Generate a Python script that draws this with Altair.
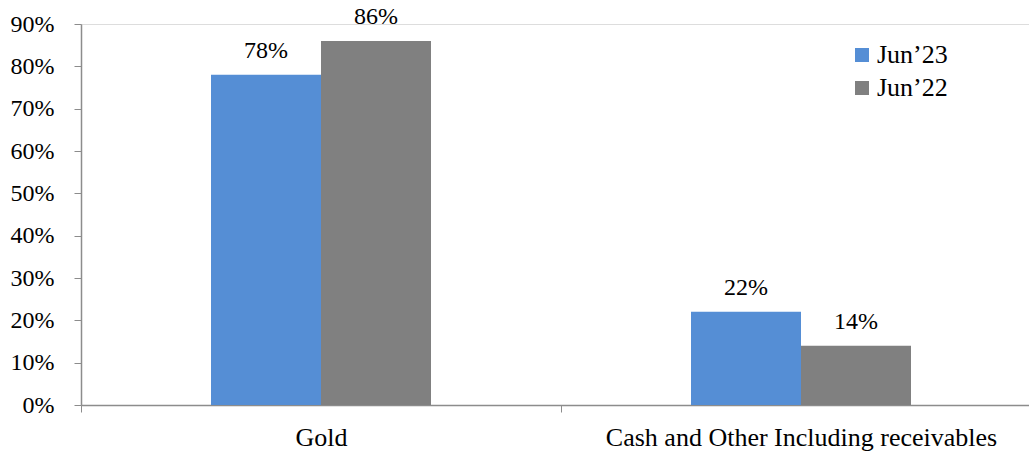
import altair as alt
import pandas as pd

# Portfolio composition by asset class, two reporting dates
categories = ["Gold", "Cash and Other Including receivables"]
series = ["Jun’23", "Jun’22"]
jun23 = [78, 22]
jun22 = [86, 14]
colors = ["#558ED5", "#808080"]

rows = []
for i, cat in enumerate(categories):
    rows.append({"category": cat, "period": series[0], "value": jun23[i], "label": f"{jun23[i]}%"})
    rows.append({"category": cat, "period": series[1], "value": jun22[i], "label": f"{jun22[i]}%"})
df = pd.DataFrame(rows)

font = "Liberation Serif"
axis_grey = "#8c8c8c"

x = alt.X("category:N", sort=categories, title=None,
          scale=alt.Scale(paddingInner=0, paddingOuter=0),
          axis=alt.Axis(labelAngle=0, labelFont=font, labelFontSize=26, labelColor="#000",
                        labelLimit=0, domainColor=axis_grey, tickColor=axis_grey, tickSize=7,
                        tickBand="extent", labelPadding=12, domainWidth=1.5))
# the pair of bars sits in the middle of each category band
xo = alt.XOffset("period:N", sort=series,
                 scale=alt.Scale(range=[130, 350], paddingInner=0, paddingOuter=0))
y = alt.Y("value:Q", title=None,
          scale=alt.Scale(domain=[0, 90], nice=False),
          axis=alt.Axis(values=list(range(0, 91, 10)), labelExpr="datum.value + '%'",
                        labelFont=font, labelFontSize=24, labelColor="#000",
                        domainColor=axis_grey, tickColor=axis_grey, tickSize=7,
                        labelPadding=20, grid=False, domainWidth=1.5))

bars = alt.Chart(df).mark_bar().encode(
    x=x, xOffset=xo, y=y,
    color=alt.Color("period:N", sort=series,
                    scale=alt.Scale(domain=series, range=colors),
                    legend=alt.Legend(title=None, orient="none", legendX=768, legendY=18,
                                      symbolType="square", symbolSize=196,
                                      symbolStrokeWidth=0, labelFont=font,
                                      labelFontSize=26, labelColor="#000",
                                      labelOffset=2, rowPadding=7)),
)

labels = alt.Chart(df).mark_text(font=font, fontSize=24, baseline="alphabetic",
                                 dy=-17, color="#000").encode(
    x=alt.X("category:N", sort=categories), xOffset=xo,
    y="value:Q", text="label:N",
)

chart = (bars + labels).properties(
    width=960, height=381,
    autosize=alt.AutoSizeParams(type="none"),
    padding={"left": 81, "top": 24, "right": -12, "bottom": 47},
).configure_view(stroke=None).configure(background="white")

chart.save("out.html", embed_options={"renderer": "svg", "actions": False})
